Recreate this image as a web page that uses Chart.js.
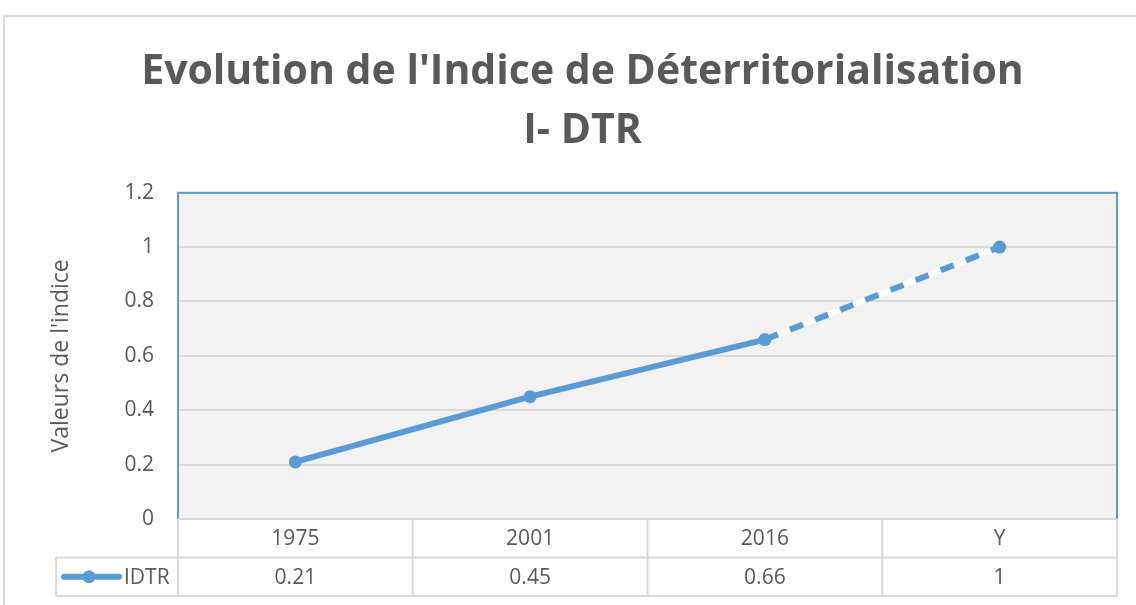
<!DOCTYPE html>
<html>
<head>
<meta charset="utf-8">
<script src="https://cdn.jsdelivr.net/npm/chart.js@4.4.0/dist/chart.umd.min.js"></script>
<style>
  html, body { margin: 0; padding: 0; background: #fff; overflow: hidden; }
  .frame {
    position: absolute; left: 3px; top: 15px; width: 1300px; height: 800px;
    border: 2px solid #d9d9d9; box-sizing: border-box;
  }
  .wrap { position: absolute; left: 0; top: 0; width: 1136px; height: 605px; }
</style>
</head>
<body>
<div class="frame"></div>
<div class="wrap"><canvas id="chart" width="1136" height="605"></canvas></div>
<script>
// --- données ---
const categories = ["1975", "2001", "2016", "Y"];
const idtrValues = [0.21, 0.45, 0.66, 1];
const tableLabels = ["0.21", "0.45", "0.66", "1"];
const yTickLabels = ["0", "0.2", "0.4", "0.6", "0.8", "1", "1.2"];
const seriesName = "IDTR";
const titleLines = ["Evolution de l'Indice de Déterritorialisation", "I- DTR"];
const yTitle = "Valeurs de l'indice";

const BLUE = "#5b9bd5";
const TEXT = "#595959";
const GRID = "#d9d9d9";
const FONT = "'Open Sans', sans-serif";

// fond gris + bordure bleue de la zone de tracé, segment blanc sous les tirets
const plotArea = {
  id: "plotArea",
  beforeDraw(chart) {
    const { ctx, chartArea: { left, top, right, bottom } } = chart;
    ctx.save();
    ctx.fillStyle = "#f2f2f2";
    ctx.fillRect(left, top, right - left, bottom - top);
    ctx.restore();
  },
  beforeDatasetsDraw(chart) {
    const { ctx, chartArea: { left, top, right, bottom } } = chart;
    ctx.save();
    ctx.strokeStyle = BLUE;
    ctx.lineWidth = 2;
    ctx.beginPath();
    ctx.moveTo(left, bottom);
    ctx.lineTo(left, top);
    ctx.lineTo(right, top);
    ctx.lineTo(right, bottom);
    ctx.stroke();

    // le dernier segment est en tirets sur fond blanc
    const pts = chart.getDatasetMeta(0).data;
    const a = pts[pts.length - 2], b = pts[pts.length - 1];
    ctx.strokeStyle = "#fff";
    ctx.lineWidth = 6;
    ctx.beginPath();
    ctx.moveTo(a.x, a.y);
    ctx.lineTo(b.x, b.y);
    ctx.stroke();
    ctx.restore();
  },
  // tableau de données sous l'axe
  afterDraw(chart) {
    const { ctx, chartArea: { left, right, bottom } } = chart;
    const x = chart.scales.x;
    const colW = x.getPixelForValue(1) - x.getPixelForValue(0);
    const rowH = 38.5;
    const r1 = bottom, r2 = bottom + rowH, r3 = bottom + rowH * 2;
    const legendLeft = 56;

    ctx.save();
    ctx.strokeStyle = GRID;
    ctx.lineWidth = 2;
    ctx.beginPath();
    ctx.moveTo(left, r1); ctx.lineTo(right, r1);
    ctx.moveTo(legendLeft, r2); ctx.lineTo(right, r2);
    ctx.moveTo(legendLeft, r3); ctx.lineTo(right, r3);
    ctx.moveTo(legendLeft, r2); ctx.lineTo(legendLeft, r3);
    categories.forEach((c, i) => {
      const bx = x.getPixelForValue(i) - colW / 2;
      ctx.moveTo(bx, r1); ctx.lineTo(bx, r3);
    });
    ctx.moveTo(right, r1); ctx.lineTo(right, r3);
    ctx.stroke();

    ctx.fillStyle = TEXT;
    ctx.font = "21px " + FONT;
    ctx.textAlign = "center";
    ctx.textBaseline = "middle";
    categories.forEach((c, i) => {
      const cx = x.getPixelForValue(i);
      ctx.fillText(c, cx, (r1 + r2) / 2 + 1);
      ctx.fillText(tableLabels[i], cx, (r2 + r3) / 2 + 1);
    });

    // légende dans la cellule
    const ly = (r2 + r3) / 2;
    ctx.strokeStyle = BLUE;
    ctx.lineWidth = 6;
    ctx.lineCap = "round";
    ctx.beginPath();
    ctx.moveTo(64, ly); ctx.lineTo(119, ly);
    ctx.stroke();
    ctx.fillStyle = BLUE;
    ctx.beginPath();
    ctx.arc(89, ly, 6.5, 0, Math.PI * 2);
    ctx.fill();
    ctx.fillStyle = TEXT;
    ctx.textAlign = "left";
    ctx.fillText(seriesName, 124, ly + 1);
    ctx.restore();
  },
};

new Chart(document.getElementById("chart"), {
  type: "line",
  data: {
    labels: categories,
    datasets: [
      {
        label: seriesName,
        data: idtrValues,
        borderColor: BLUE,
        backgroundColor: BLUE,
        borderWidth: 6,
        borderJoinStyle: "round",
        pointRadius: 6.5,
        pointBorderWidth: 0,
        pointBackgroundColor: BLUE,
        segment: {
          borderDash: (ctx) => (ctx.p1DataIndex === idtrValues.length - 1 ? [14, 13] : undefined),
        },
      },
    ],
  },
  options: {
    responsive: false,
    animation: false,
    layout: { padding: { left: 48, right: 19, top: 0, bottom: 86 } },
    plugins: {
      legend: { display: false },
      tooltip: { enabled: false },
      title: {
        display: true,
        text: titleLines,
        color: TEXT,
        font: { family: FONT, size: 41, weight: "bold", lineHeight: 1.46 },
        padding: { top: 42, bottom: 31 },
      },
    },
    scales: {
      x: {
        display: false,
        offset: true,
        grid: { display: false },
      },
      y: {
        min: 0,
        max: 1.2,
        ticks: {
          stepSize: 0.2,
          color: TEXT,
          font: { family: FONT, size: 21 },
          padding: 24,
          callback: (value, index) => yTickLabels[index],
        },
        grid: { color: GRID, lineWidth: 2, drawTicks: false },
        border: { display: false },
        title: {
          display: true,
          text: yTitle,
          color: TEXT,
          font: { family: FONT, size: 23, lineHeight: 1.2 },
          padding: 0,
        },
        afterFit(scale) {
          scale.width = 130;
        },
      },
    },
  },
  plugins: [plotArea],
});
</script>
</body>
</html>
